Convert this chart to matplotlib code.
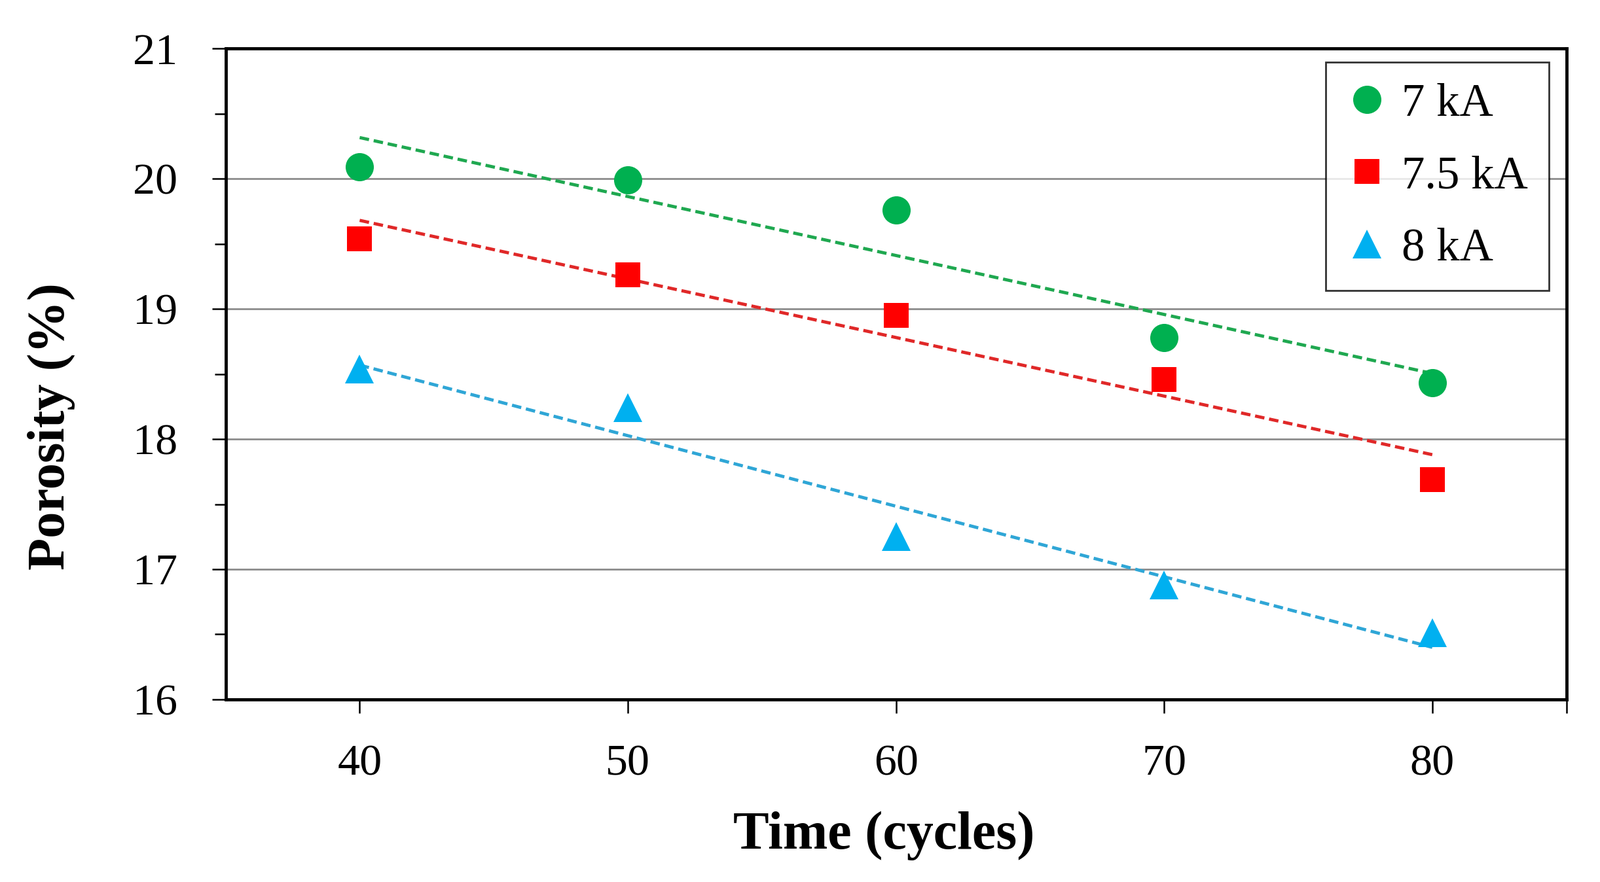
import numpy as np
import matplotlib
matplotlib.use('Agg')
import matplotlib.pyplot as plt
from matplotlib.ticker import MultipleLocator, FixedLocator

plt.rcParams['font.family'] = ['Liberation Serif', 'DejaVu Serif']

# ---- data ----
time_cycles = [40, 50, 60, 70, 80]
por_7kA = [20.09, 19.99, 19.76, 18.78, 18.43]
por_75kA = [19.54, 19.26, 18.95, 18.46, 17.69]
por_8kA = [18.54, 18.24, 17.25, 16.88, 16.51]
labels = ['7 kA', '7.5 kA', '8 kA']

series = [
    (por_7kA, 'o', 31, '#00B050', '#1FA850'),
    (por_75kA, 's', 27, '#FF0000', '#E02828'),
    (por_8kA, '^', 31, '#00B0F0', '#2FA6D6'),
]

fig = plt.figure(figsize=(24.44, 13.48), dpi=100)
ax = fig.add_axes([0.141, 0.207, 0.838, 0.738])

x = np.array(time_cycles, dtype=float)
for (vals, mk, ms, col, lcol), lab in zip(series, labels):
    y = np.array(vals)
    ax.plot(x, y, linestyle='none', marker=mk, markersize=ms, color=col,
            markeredgewidth=0, label=lab, zorder=4)
    # linear trend line (Excel style)
    k, b = np.polyfit(x, y, 1)
    ax.plot(x, k * x + b, linestyle=(0, (3, 1.5)), color=lcol, lw=3.5, zorder=3)

ax.set_xlim(35, 85)
ax.set_ylim(16, 21)
ax.xaxis.set_major_locator(FixedLocator(time_cycles))
ax.xaxis.set_minor_locator(FixedLocator([85]))
ax.yaxis.set_major_locator(MultipleLocator(1))
ax.yaxis.set_minor_locator(MultipleLocator(0.5))

ax.grid(axis='y', which='major', color='#8c8c8c', lw=2, zorder=1)
for s in ax.spines.values():
    s.set_linewidth(3.5)
    s.set_color('black')

ax.tick_params(axis='both', which='major', direction='out', length=15, width=1.8,
               labelsize=49, color='black')
ax.tick_params(axis='x', which='major', pad=34)
ax.tick_params(axis='y', which='major', pad=38)
ax.tick_params(axis='x', which='minor', direction='out', length=15, width=1.8)
ax.tick_params(axis='y', which='minor', direction='out', length=12, width=1.8)

ax.set_xlabel('Time (cycles)', fontsize=59, fontweight='bold')
ax.set_ylabel('Porosity (%)', fontsize=58, fontweight='bold')
ax.xaxis.set_label_coords(0.491, -0.209)
ax.xaxis.label.set_va('center')
ax.yaxis.set_label_coords(-0.13, 0.42)
ax.yaxis.label.set_va('center')

leg = ax.legend(loc='upper right', bbox_to_anchor=(0.987, 0.979), borderaxespad=0,
                fontsize=51, frameon=True, fancybox=False, handlelength=0.9,
                handletextpad=0.3, labelspacing=0.64, borderpad=0.45, markerscale=1.0)
leg.get_frame().set_edgecolor('black')
leg.get_frame().set_linewidth(2)

fig.savefig('out.png', dpi=100, facecolor='white')
